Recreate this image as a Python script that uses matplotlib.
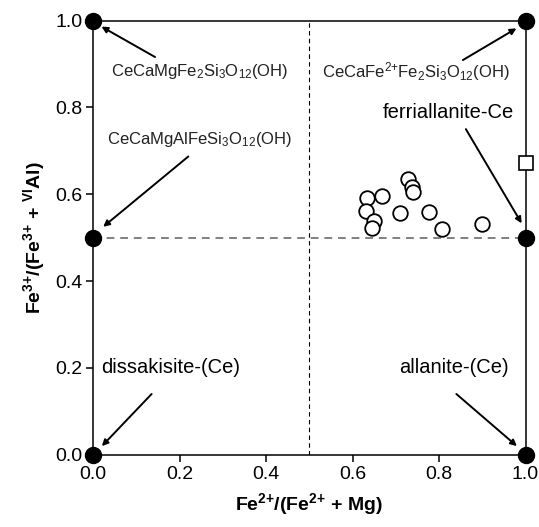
import matplotlib
matplotlib.use("Agg")
import matplotlib.pyplot as plt

plt.rcParams['font.family'] = ['Liberation Sans', 'DejaVu Sans']
plt.rcParams['mathtext.fontset'] = 'custom'
plt.rcParams['mathtext.rm'] = 'Liberation Sans'
plt.rcParams['mathtext.it'] = 'Liberation Sans'
plt.rcParams['mathtext.bf'] = 'Liberation Sans:bold'

# measured compositions (open circles)
fe2_ratio = [0.633, 0.669, 0.728, 0.737, 0.739, 0.631, 0.649, 0.644, 0.709, 0.776, 0.806, 0.900]
fe3_ratio = [0.592, 0.597, 0.634, 0.616, 0.605, 0.562, 0.539, 0.523, 0.556, 0.558, 0.519, 0.531]

# ferriallanite-Ce reference (open square)
ferri_x = [1.0]
ferri_y = [0.673]

# end-member corners (filled circles)
end_x = [0.0, 1.0, 0.0, 1.0, 0.0, 1.0]
end_y = [1.0, 1.0, 0.5, 0.5, 0.0, 0.0]

ticks = [0.0, 0.2, 0.4, 0.6, 0.8, 1.0]

fig = plt.figure(figsize=(5.39, 5.27), dpi=100)
ax = fig.add_axes([0.173, 0.137, 0.802, 0.824])

ax.axvline(0.5, color="black", lw=0.8, ls=(0, (4, 3)), zorder=1)
ax.axhline(0.5, color="#808080", lw=1.4, ls=(0, (4, 3)), zorder=1)

ax.plot(fe2_ratio, fe3_ratio, "o", ms=10.5, mfc="white", mec="black", mew=1.3, zorder=3)
ax.plot(ferri_x, ferri_y, "s", ms=9.5, mfc="white", mec="black", mew=1.2, zorder=4, clip_on=False)
ax.plot(end_x, end_y, "o", ms=11.5, color="black", zorder=5, clip_on=False)

# end-member labels with arrows
arrow = dict(arrowstyle="-|>", color="black", lw=1.4, mutation_scale=9, shrinkA=0, shrinkB=0)
small = dict(fontsize=12, ha="center", va="center", color="#222222")
big = dict(fontsize=14.5, ha="center", va="center")

ax.annotate("", xy=(0.019, 0.986), xytext=(0.143, 0.916), arrowprops=arrow)
ax.text(0.247, 0.882, r"CeCaMgFe$_2$Si$_3$O$_{12}$(OH)", **small)

ax.annotate("", xy=(0.979, 0.982), xytext=(0.855, 0.909), arrowprops=arrow)
ax.text(0.747, 0.882, r"CeCaFe$^{2{+}}$Fe$_2$Si$_3$O$_{12}$(OH)", **small)

ax.annotate("", xy=(0.023, 0.525), xytext=(0.220, 0.687), arrowprops=arrow)
ax.text(0.247, 0.725, r"CeCaMgAlFeSi$_3$O$_{12}$(OH)", **small)

ax.annotate("", xy=(0.991, 0.533), xytext=(0.862, 0.750), arrowprops=arrow)
ax.text(0.821, 0.788, "ferriallanite-Ce", **big)

ax.annotate("", xy=(0.02, 0.02), xytext=(0.135, 0.14), arrowprops=arrow)
ax.text(0.18, 0.20, "dissakisite-(Ce)", **big)

ax.annotate("", xy=(0.98, 0.02), xytext=(0.84, 0.14), arrowprops=arrow)
ax.text(0.835, 0.20, "allanite-(Ce)", **big)

ax.set_xlim(0, 1)
ax.set_ylim(0, 1)
ax.set_xticks(ticks)
ax.set_yticks(ticks)
ax.set_xticklabels([f"{t:.1f}" for t in ticks])
ax.set_yticklabels([f"{t:.1f}" for t in ticks])
ax.tick_params(direction="out", length=5, width=1.1, labelsize=14, pad=3)
for s in ax.spines.values():
    s.set_linewidth(1.1)

ax.set_xlabel(r"Fe$\mathbf{^{2{+}}}$/(Fe$\mathbf{^{2{+}}}$ + Mg)", fontsize=14, fontweight="bold", labelpad=6)
ax.set_ylabel(r"Fe$\mathbf{^{3{+}}}$/(Fe$\mathbf{^{3{+}}}$ + $\mathbf{^{VI}}$Al)", fontsize=14, fontweight="bold", labelpad=6)

fig.savefig("out.png", dpi=100)
